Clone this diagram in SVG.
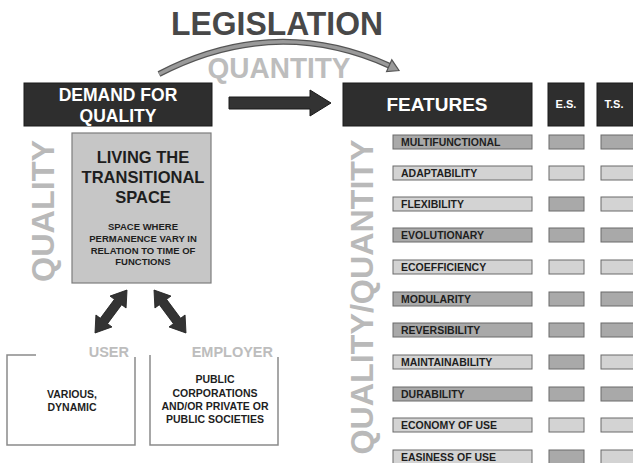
<svg xmlns="http://www.w3.org/2000/svg" width="633" height="463" viewBox="0 0 633 463">
<defs>
<style>
text{font-family:"Liberation Sans",Arial,sans-serif;font-weight:bold}
.hdr{fill:#2e2e2e;stroke:#1a1a1a;stroke-width:1}
.wt{fill:#fff;text-anchor:middle}
.big{fill:#b9b9b9}
.dk{fill:#a9a9a9;stroke:#6a6a6a;stroke-width:1}
.lt{fill:#d3d3d3;stroke:#6a6a6a;stroke-width:1}
.lbl{fill:#1e1e1e;font-size:10.5px}
.frame{fill:none;stroke:#8a8a8a;stroke-width:1.5}
.bt{fill:#1e1e1e;text-anchor:middle;font-size:10.5px}
</style>
<path id="dbl" d="M0,0 L15,-10 L15,-4.5 L38.6,-4.5 L38.6,-10 L53.6,0 L38.6,10 L38.6,4.5 L15,4.5 L15,10 Z" fill="#333" stroke="#222" stroke-width="0.8"/>
</defs>
<rect width="633" height="463" fill="#fff"/>

<g id="title">
<text x="277" y="35" font-size="34" fill="#484848" text-anchor="middle" textLength="212" lengthAdjust="spacingAndGlyphs">LEGISLATION</text>
<text x="279" y="78" font-size="30" fill="#bdbdbd" text-anchor="middle" textLength="143" lengthAdjust="spacingAndGlyphs">QUANTITY</text>
</g>

<g id="connectors">
<path d="M159,74 Q275,14 390,66" fill="none" stroke="#555" stroke-width="6"/>
<path d="M159,74 Q275,14 390,66" fill="none" stroke="#9a9a9a" stroke-width="3.5"/>
<polygon points="386.6,71.6 391.8,59.8 399,70.5" fill="#9a9a9a" stroke="#555" stroke-width="1.2"/>
<polygon points="229,97 310,97 310,90 331,103 310,116 310,109 229,109" fill="#333" stroke="#1a1a1a" stroke-width="1"/>
<use href="#dbl" transform="translate(127,290) rotate(126.65)"/>
<use href="#dbl" transform="translate(154,290) rotate(53.35)"/>
</g>

<g id="demand">
<rect class="hdr" x="24" y="83" width="188" height="43"/>
<text class="wt" x="118" y="101" font-size="17.5">DEMAND FOR</text>
<text class="wt" x="118" y="122" font-size="17.5">QUALITY</text>
</g>

<g id="features-header">
<rect class="hdr" x="343" y="83" width="189" height="43"/>
<text class="wt" x="437" y="111" font-size="19">FEATURES</text>
</g>
<g id="es-header">
<rect class="hdr" x="548" y="83" width="36" height="43"/>
<text class="wt" x="566" y="108" font-size="11">E.S.</text>
</g>
<g id="ts-header">
<rect class="hdr" x="597" y="83" width="45" height="43"/>
<text class="wt" x="614" y="108" font-size="11">T.S.</text>
</g>

<g id="quality-label">
<text class="big" font-size="32" text-anchor="middle" transform="translate(54,211) rotate(-90)" textLength="142" lengthAdjust="spacingAndGlyphs">QUALITY</text>
</g>
<g id="qq-label">
<text class="big" font-size="32" text-anchor="middle" transform="translate(373,297) rotate(-90)" textLength="315" lengthAdjust="spacingAndGlyphs">QUALITY/QUANTITY</text>
</g>

<g id="living">
<rect x="72" y="133" width="139" height="150" fill="#c6c6c6" stroke="#7d7d7d" stroke-width="1.2"/>
<text x="143" y="163" font-size="16.5" fill="#1e1e1e" text-anchor="middle">LIVING THE</text>
<text x="143" y="183" font-size="16.5" fill="#1e1e1e" text-anchor="middle">TRANSITIONAL</text>
<text x="143" y="203" font-size="16.5" fill="#1e1e1e" text-anchor="middle">SPACE</text>
<text x="143" y="230" font-size="9.5" fill="#1e1e1e" text-anchor="middle">SPACE WHERE</text>
<text x="143" y="242" font-size="9.5" fill="#1e1e1e" text-anchor="middle">PERMANENCE VARY IN</text>
<text x="143" y="253.5" font-size="9.5" fill="#1e1e1e" text-anchor="middle">RELATION TO TIME OF</text>
<text x="143" y="265" font-size="9.5" fill="#1e1e1e" text-anchor="middle">FUNCTIONS</text>
</g>

<g id="user">
<path class="frame" d="M36,355 L7,355 L7,445 L135,445 L135,357"/>
<text x="129" y="357" font-size="14.5" fill="#bdbdbd" text-anchor="end">USER</text>
<text class="bt" x="72" y="398">VARIOUS,</text>
<text class="bt" x="72" y="411">DYNAMIC</text>
</g>

<g id="employer">
<path class="frame" d="M150,355 L150,445 L278,445 L278,357"/>
<text x="273" y="357" font-size="14.5" fill="#bdbdbd" text-anchor="end">EMPLOYER</text>
<text class="bt" x="215" y="383">PUBLIC</text>
<text class="bt" x="215" y="397">CORPORATIONS</text>
<text class="bt" x="215" y="410">AND/OR PRIVATE OR</text>
<text class="bt" x="215" y="423">PUBLIC SOCIETIES</text>
</g>

<g id="row-multifunctional">
<rect class="dk" x="393" y="135" width="139" height="14"/><text class="lbl" x="401" y="146">MULTIFUNCTIONAL</text>
<rect class="dk" x="549" y="135" width="35" height="14"/><rect class="dk" x="601" y="135" width="40" height="14"/>
</g>
<g id="row-adaptability">
<rect class="lt" x="393" y="166" width="139" height="14"/><text class="lbl" x="401" y="177">ADAPTABILITY</text>
<rect class="lt" x="549" y="166" width="35" height="14"/><rect class="lt" x="601" y="166" width="40" height="14"/>
</g>
<g id="row-flexibility">
<rect class="lt" x="393" y="197" width="139" height="14"/><text class="lbl" x="401" y="208">FLEXIBILITY</text>
<rect class="dk" x="549" y="197" width="35" height="14"/><rect class="lt" x="601" y="197" width="40" height="14"/>
</g>
<g id="row-evolutionary">
<rect class="dk" x="393" y="228" width="139" height="14"/><text class="lbl" x="401" y="239">EVOLUTIONARY</text>
<rect class="dk" x="549" y="228" width="35" height="14"/><rect class="dk" x="601" y="228" width="40" height="14"/>
</g>
<g id="row-ecoefficiency">
<rect class="lt" x="393" y="260" width="139" height="14"/><text class="lbl" x="401" y="271">ECOEFFICIENCY</text>
<rect class="lt" x="549" y="260" width="35" height="14"/><rect class="lt" x="601" y="260" width="40" height="14"/>
</g>
<g id="row-modularity">
<rect class="dk" x="393" y="292" width="139" height="14"/><text class="lbl" x="401" y="303">MODULARITY</text>
<rect class="dk" x="549" y="292" width="35" height="14"/><rect class="dk" x="601" y="292" width="40" height="14"/>
</g>
<g id="row-reversibility">
<rect class="dk" x="393" y="323" width="139" height="14"/><text class="lbl" x="401" y="334">REVERSIBILITY</text>
<rect class="dk" x="549" y="323" width="35" height="14"/><rect class="dk" x="601" y="323" width="40" height="14"/>
</g>
<g id="row-maintainability">
<rect class="lt" x="393" y="355" width="139" height="14"/><text class="lbl" x="401" y="366">MAINTAINABILITY</text>
<rect class="dk" x="549" y="355" width="35" height="14"/><rect class="lt" x="601" y="355" width="40" height="14"/>
</g>
<g id="row-durability">
<rect class="dk" x="393" y="387" width="139" height="14"/><text class="lbl" x="401" y="398">DURABILITY</text>
<rect class="dk" x="549" y="387" width="35" height="14"/><rect class="dk" x="601" y="387" width="40" height="14"/>
</g>
<g id="row-economy">
<rect class="lt" x="393" y="418" width="139" height="14"/><text class="lbl" x="401" y="429">ECONOMY OF USE</text>
<rect class="lt" x="549" y="418" width="35" height="14"/><rect class="lt" x="601" y="418" width="40" height="14"/>
</g>
<g id="row-easiness">
<rect class="lt" x="393" y="450" width="139" height="14"/><text class="lbl" x="401" y="461">EASINESS OF USE</text>
<rect class="dk" x="549" y="450" width="35" height="14"/><rect class="lt" x="601" y="450" width="40" height="14"/>
</g>
</svg>
